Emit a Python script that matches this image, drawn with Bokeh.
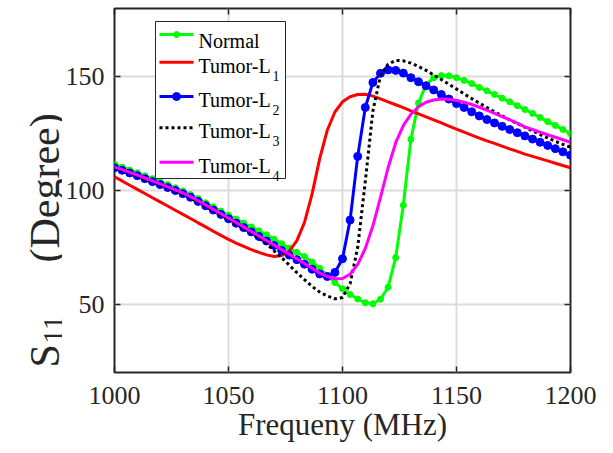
import numpy as np
from bokeh.plotting import figure
from bokeh.layouts import row
from bokeh.models import Range1d, FixedTicker, LinearAxis, ColumnDataSource, Label
from bokeh.core.properties import value
from bokeh.embed import file_html
from bokeh.resources import INLINE

# ---------------- data ----------------
freq = np.linspace(1000, 1200, 61)  # MHz sample grid

normal = [111.5, 110.3, 109.0, 107.8, 106.5, 105.2, 103.9, 102.6, 101.2, 99.8,
          98.2, 96.5, 94.6, 92.8, 91.0, 89.2, 87.4, 85.7, 84.0, 82.3,
          80.5, 78.6, 76.6, 74.6, 72.8, 71.0, 68.6, 65.8, 62.7, 59.6,
          56.8, 54.3, 52.3, 50.7, 50.2, 52.2, 57.5, 70.5, 93.5, 122.5,
          138.5, 146.5, 149.5, 150.5, 150.4, 149.6, 148.4, 147.0, 145.3, 143.8,
          142.2, 140.6, 139.0, 137.3, 135.6, 133.9, 132.1, 130.3, 128.6, 126.8,
          125.0]

tumor_l1 = [106.0, 104.2, 102.3, 100.5, 98.7, 96.8, 95.0, 93.2, 91.3, 89.5,
            87.7, 85.8, 84.0, 82.1, 80.3, 78.5, 76.9, 75.4, 74.0, 72.8,
            71.7, 71.0, 71.4, 73.3, 78.0, 86.0, 98.5, 114.0, 126.5, 134.5,
            139.0, 141.2, 142.2, 142.3, 141.5, 140.3, 139.0, 137.7, 136.4, 135.0,
            133.7, 132.4, 131.0, 129.7, 128.3, 127.0, 125.7, 124.3, 123.0, 121.8,
            120.7, 119.5, 118.3, 117.2, 116.0, 115.0, 114.0, 113.0, 112.0, 111.0,
            110.0]

tumor_l2 = [110.0, 108.9, 107.7, 106.5, 105.2, 103.9, 102.6, 101.3, 100.0, 98.6,
            97.0, 95.2, 93.3, 91.4, 89.5, 87.6, 85.6, 83.7, 81.8, 79.8,
            77.8, 75.8, 73.6, 71.6, 69.6, 67.6, 65.4, 63.3, 62.2, 64.0,
            70.0, 87.0, 115.0, 136.5, 147.5, 151.5, 153.0, 152.8, 151.6, 149.6,
            147.8, 146.0, 144.2, 142.2, 140.2, 138.2, 136.5, 134.6, 132.8, 131.2,
            129.7, 128.2, 126.8, 125.4, 124.0, 122.6, 121.2, 119.8, 118.4, 117.0,
            115.5]

tumor_l3 = [109.8, 108.6, 107.4, 106.2, 104.9, 103.6, 102.3, 101.0, 99.7, 98.3,
            96.7, 94.9, 93.0, 91.1, 89.2, 87.2, 85.2, 83.2, 81.1, 79.0,
            76.6, 73.5, 70.5, 67.2, 63.9, 60.8, 57.8, 55.4, 53.6, 52.4,
            53.0, 59.0, 75.0, 104.0, 135.0, 150.5, 155.5, 157.2, 157.0, 156.0,
            154.5, 152.8, 150.8, 148.8, 146.7, 144.6, 142.5, 140.4, 138.4, 136.5,
            134.6, 132.8, 131.1, 129.4, 127.8, 126.2, 124.6, 123.1, 121.6, 120.3,
            119.0]

tumor_l4 = [110.3, 109.2, 108.0, 106.8, 105.5, 104.2, 102.9, 101.6, 100.3, 98.9,
            97.3, 95.5, 93.6, 91.7, 89.8, 87.9, 85.9, 84.0, 82.0, 80.0,
            78.0, 76.0, 74.0, 72.0, 70.0, 67.9, 65.8, 63.8, 62.2, 61.2,
            61.3, 63.2, 67.5, 74.5, 84.5, 97.0, 110.0, 121.0, 128.5, 133.5,
            136.8, 138.8, 139.8, 140.2, 140.1, 139.6, 138.8, 137.8, 136.6, 135.3,
            133.9, 132.5, 131.1, 129.6, 128.0, 126.8, 125.6, 124.5, 123.4, 122.3,
            121.2]

x_ticks = [1000, 1050, 1100, 1150, 1200]
y_ticks = [50, 100, 150]
series_names = ["Normal", "Tumor-L", "Tumor-L", "Tumor-L", "Tumor-L"]
series_subs = ["", "1", "2", "3", "4"]
x_label = "Frequeny (MHz)"
y_label_parts = ["S", "11", "(Degree)"]

# ---------------- styling / layout ----------------
FONT = "Liberation Serif"
INK = "#262626"
colors = ["#00ff00", "#ff0000", "#0000ff", "#000000", "#ff00ff"]
dashes = ["solid", "solid", "solid", "3 3", "solid"]
marker_size = [6, 0, 8, 0, 0]

X0, X1, Y0, Y1 = 1000, 1200, 20, 180
YLAB_W, TOTAL_H = 62, 453
FRAME_L, FRAME_T, FRAME_W, FRAME_H = 113, 8, 456, 364   # page pixels


def px(x):  # page pixel -> data x
    return X0 + (x - FRAME_L) / FRAME_W * (X1 - X0)


def py(y):  # page pixel -> data y
    return Y1 - (y - FRAME_T) / FRAME_H * (Y1 - Y0)


p = figure(frame_width=FRAME_W, frame_height=FRAME_H,
           x_range=Range1d(X0, X1), y_range=Range1d(Y0, Y1),
           output_backend="svg", toolbar_location=None,
           min_border_left=FRAME_L - YLAB_W, min_border_top=FRAME_T,
           min_border_right=30, min_border_bottom=TOTAL_H - FRAME_T - FRAME_H)
p.outline_line_color = INK
p.outline_line_width = 2

for ax, ticks in ((p.xaxis[0], x_ticks), (p.yaxis[0], y_ticks)):
    ax.ticker = FixedTicker(ticks=ticks)
    ax.minor_tick_line_color = None
    ax.major_tick_in = 6
    ax.major_tick_out = 0
    ax.major_tick_line_color = INK
    ax.major_tick_line_width = 1.5
    ax.axis_line_color = None
    ax.major_label_text_font = FONT
    ax.major_label_text_font_size = "26px"
    ax.major_label_text_color = INK
p.xaxis.major_label_standoff = 14
p.yaxis.major_label_standoff = 10
p.xaxis.axis_label = x_label
p.xaxis.axis_label_text_font = FONT
p.xaxis.axis_label_text_font_size = "31px"
p.xaxis.axis_label_text_font_style = "normal"
p.xaxis.axis_label_text_color = INK
p.xaxis.axis_label_standoff = 0

for side, ticks in (("right", y_ticks), ("above", x_ticks)):
    ax = LinearAxis(ticker=FixedTicker(ticks=ticks),
                    major_label_overrides={t: "" for t in ticks},
                    major_label_text_font_size="1px",
                    major_label_standoff=0, minor_tick_line_color=None,
                    major_tick_in=6, major_tick_out=0, major_tick_line_color=INK,
                    major_tick_line_width=1.5, axis_line_color=None)
    p.add_layout(ax, side)

p.xgrid.ticker = FixedTicker(ticks=x_ticks)
p.ygrid.ticker = FixedTicker(ticks=y_ticks)
for g in (p.xgrid, p.ygrid):
    g.grid_line_color = "#dcdcdc"
    g.grid_line_width = 2

all_series = [normal, tumor_l1, tumor_l2, tumor_l3, tumor_l4]
for vals, c, d, ms in zip(all_series, colors, dashes, marker_size):
    src = ColumnDataSource(dict(f=freq, v=vals))
    p.line("f", "v", source=src, line_color=c, line_width=3, line_dash=d)
    if ms:
        p.scatter("f", "v", source=src, size=ms, fill_color=c, line_color=c)

# ---------------- custom legend (page-pixel layout) ----------------
box_l, box_r, box_t, box_b = 154, 284, 21, 178
p.quad(left=[px(box_l)], right=[px(box_r)], top=[py(box_t)], bottom=[py(box_b)],
       fill_color="white", line_color=INK, line_width=1)
row_line_y = [34, 61.7, 96, 127.3, 161.7]
row_base_y = [40.5, 65, 99, 130.5, 165]
for i, (name, sub) in enumerate(zip(series_names, series_subs)):
    ly = py(row_line_y[i])
    p.line([px(158), px(192)], [ly, ly], line_color=colors[i], line_width=3,
           line_dash=dashes[i])
    if marker_size[i]:
        p.scatter([px(175)], [ly], size=marker_size[i], fill_color=colors[i],
                  line_color=colors[i])
    p.add_layout(Label(x=px(197), y=py(row_base_y[i]), text=name,
                       text_font=FONT, text_font_size="20px", text_color="black",
                       text_baseline="alphabetic", text_align="left"))
    if sub:
        p.add_layout(Label(x=px(271), y=py(row_base_y[i] + 10), text=sub,
                           text_font=FONT, text_font_size="14px",
                           text_color="black", text_baseline="alphabetic",
                           text_align="left"))

# ---------------- y-axis title in its own narrow figure ----------------
# The row aligns this figure's frame with the main frame (page y 8..372),
# so its y range is expressed as (TOTAL_H - page y) over that span.
ylab = figure(width=YLAB_W, height=TOTAL_H, x_range=Range1d(0, YLAB_W),
              y_range=Range1d(TOTAL_H - FRAME_T - FRAME_H, TOTAL_H - FRAME_T),
              output_backend="svg", toolbar_location=None,
              x_axis_location=None, y_axis_location=None, min_border=0)
ylab.outline_line_color = None
ylab.xgrid.visible = False
ylab.ygrid.visible = False
# (baseline x, start y) in page pixels, font size
ylab_pos = [(44, 367, "42px"), (53, 343, "29px"), (44, 262, "42px")]
for t, (bx, by, fs) in zip(y_label_parts, ylab_pos):
    ylab.text([bx], [TOTAL_H - by], text=[t], angle=np.pi / 2,
              text_align="left", text_baseline="alphabetic",
              text_font=value(FONT), text_font_size=value(fs), text_color=INK)

layout = row(ylab, p, spacing=0)
open("out.html", "w").write(file_html(layout, INLINE))
